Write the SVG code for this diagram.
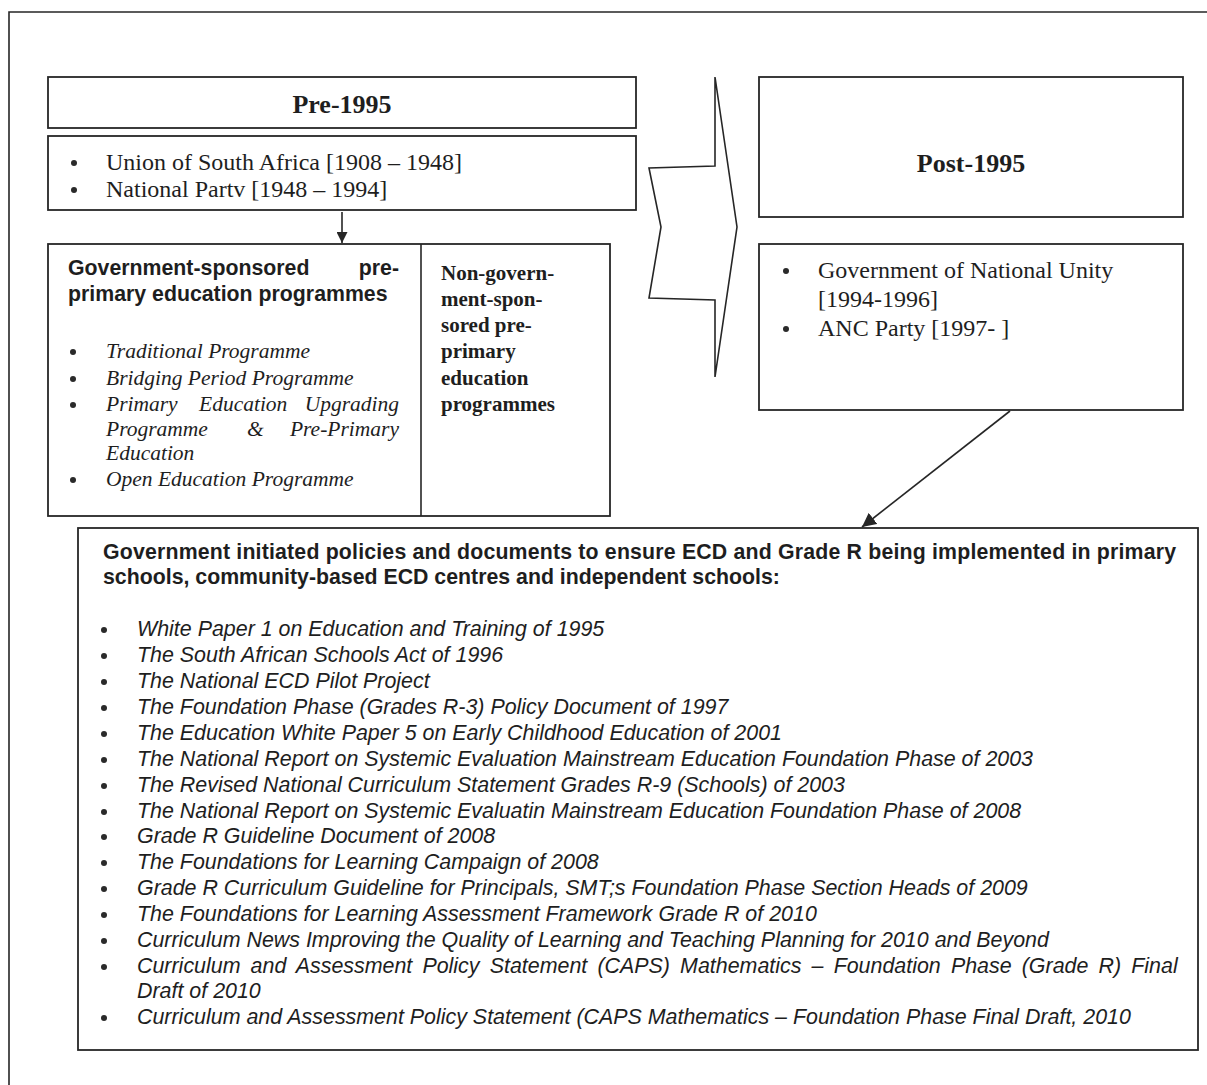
<svg xmlns="http://www.w3.org/2000/svg" width="1207" height="1085" viewBox="0 0 1207 1085">
<style>
.box{fill:none;stroke:#262626;stroke-width:1.8}
.ln{fill:none;stroke:#262626;stroke-width:1.6}
.hd{font-family:"Liberation Serif",serif;font-weight:bold;font-size:26px;fill:#1e1e1e;text-anchor:middle}
.sr{font-family:"Liberation Serif",serif;font-size:24px;fill:#1e1e1e}
.si{font-family:"Liberation Serif",serif;font-style:italic;font-size:21.5px;fill:#1e1e1e}
.sb{font-family:"Liberation Serif",serif;font-weight:bold;font-size:21px;fill:#1e1e1e}
.ab{font-family:"Liberation Sans",sans-serif;font-weight:bold;font-size:21.3px;fill:#1e1e1e}
.ai{font-family:"Liberation Sans",sans-serif;font-style:italic;font-size:21.42px;fill:#1e1e1e}
.bu{fill:#2a2a2a}
</style>
<defs>
<marker id="ah" viewBox="0 0 10 10" refX="10" refY="5" markerWidth="11" markerHeight="11" markerUnits="userSpaceOnUse" orient="auto">
<path d="M0,0 L10,5 L0,10 z" fill="#262626"/>
</marker>
<marker id="ah2" viewBox="0 0 10 10" refX="10" refY="5" markerWidth="14" markerHeight="14" markerUnits="userSpaceOnUse" orient="auto">
<path d="M0,0 L10,5 L0,10 z" fill="#262626"/>
</marker>
</defs>
<rect width="1207" height="1085" fill="#ffffff"/>
<polyline class="ln" points="9,1085 9,12 1207,12"/>

<g id="pre1995">
<rect class="box" x="48" y="77" width="588" height="51"/>
<text class="hd" x="342" y="113">Pre-1995</text>
</g>

<g id="pre-regimes">
<rect class="box" x="48" y="136" width="588" height="74"/>
<circle class="bu" cx="74" cy="163" r="3"/>
<text class="sr" x="106" y="170">Union of South Africa [1908 – 1948]</text>
<circle class="bu" cx="74" cy="190" r="3"/>
<text class="sr" x="106" y="197">National Partv [1948 – 1994]</text>
</g>

<g id="programmes">
<rect class="box" x="48" y="244" width="562" height="272"/>
<line class="ln" x1="421" y1="244" x2="421" y2="516"/>
<text class="ab" y="275"><tspan x="68">Government-sponsored</tspan><tspan x="399" text-anchor="end">pre-</tspan></text>
<text class="ab" x="68" y="301">primary education programmes</text>
<circle class="bu" cx="73" cy="352" r="3"/>
<text class="si" x="106" y="358">Traditional Programme</text>
<circle class="bu" cx="73" cy="379" r="3"/>
<text class="si" x="106" y="385">Bridging Period Programme</text>
<circle class="bu" cx="73" cy="405" r="3"/>
<text class="si" y="411"><tspan x="106">Primary</tspan><tspan x="199">Education</tspan><tspan x="399" text-anchor="end">Upgrading</tspan></text>
<text class="si" y="436"><tspan x="106">Programme</tspan><tspan x="247">&amp;</tspan><tspan x="399" text-anchor="end">Pre-Primary</tspan></text>
<text class="si" x="106" y="460">Education</text>
<circle class="bu" cx="73" cy="480" r="3"/>
<text class="si" x="106" y="486">Open Education Programme</text>
<text class="sb" x="441" y="280">Non-govern-</text>
<text class="sb" x="441" y="306">ment-spon-</text>
<text class="sb" x="441" y="332">sored pre-</text>
<text class="sb" x="441" y="358">primary</text>
<text class="sb" x="441" y="385">education</text>
<text class="sb" x="441" y="411">programmes</text>
</g>

<g id="transition-arrow">
<polygon class="ln" points="715,77 715,166 649,168 661,227 649,298 715,300 715,377 737,227"/>
</g>

<g id="post1995">
<rect class="box" x="759" y="77" width="424" height="140"/>
<text class="hd" x="971" y="172">Post-1995</text>
</g>

<g id="post-regimes">
<rect class="box" x="759" y="244" width="424" height="166"/>
<circle class="bu" cx="786" cy="271" r="3"/>
<text class="sr" x="818" y="278">Government of National Unity</text>
<text class="sr" x="818" y="307">[1994-1996]</text>
<circle class="bu" cx="786" cy="329" r="3"/>
<text class="sr" x="818" y="336">ANC Party [1997- ]</text>
</g>

<g id="policies">
<rect class="box" x="78" y="528" width="1120" height="522"/>
<text class="ab" x="103" y="559" textLength="1073" lengthAdjust="spacing">Government initiated policies and documents to ensure ECD and Grade R being implemented in primary</text>
<text class="ab" x="103" y="584">schools, community-based ECD centres and independent schools:</text>
<g class="bu">
<circle cx="104" cy="630" r="3"/>
<circle cx="104" cy="656" r="3"/>
<circle cx="104" cy="682" r="3"/>
<circle cx="104" cy="708" r="3"/>
<circle cx="104" cy="734" r="3"/>
<circle cx="104" cy="760" r="3"/>
<circle cx="104" cy="786" r="3"/>
<circle cx="104" cy="812" r="3"/>
<circle cx="104" cy="837" r="3"/>
<circle cx="104" cy="863" r="3"/>
<circle cx="104" cy="889" r="3"/>
<circle cx="104" cy="915" r="3"/>
<circle cx="104" cy="941" r="3"/>
<circle cx="104" cy="967" r="3"/>
<circle cx="104" cy="1018" r="3"/>
</g>
<text class="ai" x="137" y="636">White Paper 1 on Education and Training of 1995</text>
<text class="ai" x="137" y="662">The South African Schools Act of 1996</text>
<text class="ai" x="137" y="688">The National ECD Pilot Project</text>
<text class="ai" x="137" y="714">The Foundation Phase (Grades R-3) Policy Document of 1997</text>
<text class="ai" x="137" y="740">The Education White Paper 5 on Early Childhood Education of 2001</text>
<text class="ai" x="137" y="766">The National Report on Systemic Evaluation Mainstream Education Foundation Phase of 2003</text>
<text class="ai" x="137" y="792">The Revised National Curriculum Statement Grades R-9 (Schools) of 2003</text>
<text class="ai" x="137" y="818">The National Report on Systemic Evaluatin Mainstream Education Foundation Phase of 2008</text>
<text class="ai" x="137" y="843">Grade R Guideline Document of 2008</text>
<text class="ai" x="137" y="869">The Foundations for Learning Campaign of 2008</text>
<text class="ai" x="137" y="895">Grade R Curriculum Guideline for Principals, SMT;s Foundation Phase Section Heads of 2009</text>
<text class="ai" x="137" y="921">The Foundations for Learning Assessment Framework Grade R of 2010</text>
<text class="ai" x="137" y="947">Curriculum News Improving the Quality of Learning and Teaching Planning for 2010 and Beyond</text>
<text class="ai" x="137" y="973" word-spacing="4.2">Curriculum and Assessment Policy Statement (CAPS) Mathematics – Foundation Phase (Grade R) Final</text>
<text class="ai" x="137" y="998">Draft of 2010</text>
<text class="ai" x="137" y="1024">Curriculum and Assessment Policy Statement (CAPS Mathematics – Foundation Phase Final Draft, 2010</text>
</g>

<g id="connectors">
<line class="ln" x1="342" y1="212" x2="342" y2="243" marker-end="url(#ah)"/>
<line class="ln" x1="1010" y1="411" x2="862" y2="527" marker-end="url(#ah2)"/>
</g>
</svg>
